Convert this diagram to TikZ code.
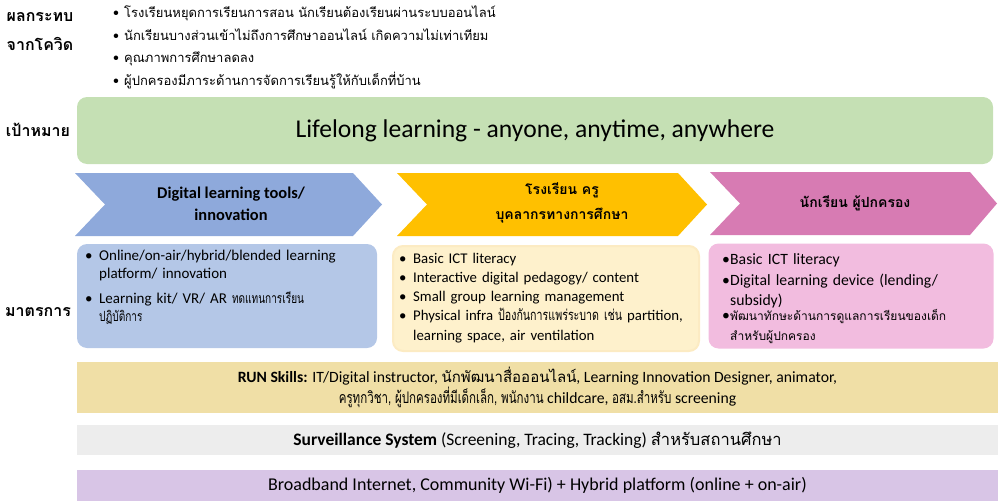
\documentclass[tikz,border=0pt]{standalone}
\usepackage{fontspec}
\setmainfont{Carlito}
\newfontfamily\thaifont[Script=Thai]{Loma}
\newfontfamily\thaicond[Script=Thai,FakeStretch=0.72]{Loma}
\newcommand\tha[1]{{\thaifont #1}}
\newcommand\thc[1]{{\thaicond #1}}
\newcommand\bul[2][12pt]{\par\noindent\makebox[#1][l]{•}\parbox[t]{\dimexpr\hsize-#1\relax}{\raggedright #2}}
\hyphenpenalty=10000
\exhyphenpenalty=10000
\definecolor{cgreen}{HTML}{C5E0B4}
\definecolor{cbluechev}{HTML}{8EA9DB}
\definecolor{cbluebox}{HTML}{B4C7E7}
\definecolor{cyelchev}{HTML}{FFC000}
\definecolor{cyelbox}{HTML}{FEF1CC}
\definecolor{cyeledge}{HTML}{FCEBC3}
\definecolor{cpinkchev}{HTML}{D77BB3}
\definecolor{cpinkbox}{HTML}{F2BCDF}
\definecolor{ctan}{HTML}{F0DFA6}
\definecolor{cgray}{HTML}{EDEDED}
\definecolor{clav}{HTML}{D8C5E6}
\tikzset{
  panel/.style={rectangle, rounded corners=10pt, inner sep=0pt},
  bar/.style={rectangle, inner sep=0pt},
  sidelabel/.style={font=\fontsize{16}{29}\selectfont\bfseries\thaifont, align=center},
  chevtext/.style={font=\fontsize{16.4}{22}\selectfont\bfseries, align=center},
  boxtext/.style={align=left, inner sep=0pt, anchor=north west},
}
\begin{document}
\begin{tikzpicture}[x=1pt,y=-1pt]
\useasboundingbox (0,0) rectangle (998,503);
% side labels
\node[sidelabel] (impact) at (40,32) {ผลกระทบ\\จากโควิด};
\node[sidelabel] (goallbl) at (38,130) {เป้าหมาย};
\node[sidelabel] (measlbl) at (38,312) {มาตรการ};
% top bullets
\node[boxtext, font=\fontsize{13}{22.7}\selectfont\thaifont, text width=520pt] (bullets) at (113,-5.5) {%
\bul[11pt]{โรงเรียนหยุดการเรียนการสอน นักเรียนต้องเรียนผ่านระบบออนไลน์}
\bul[11pt]{นักเรียนบางส่วนเข้าไม่ถึงการศึกษาออนไลน์ เกิดความไม่เท่าเทียม}
\bul[11pt]{คุณภาพการศึกษาลดลง}
\bul[11pt]{ผู้ปกครองมีภาระด้านการจัดการเรียนรู้ให้กับเด็กที่บ้าน}};
% goal
\node[panel, fill=cgreen, minimum width=916pt, minimum height=67pt, font=\fontsize{25.6}{30}\selectfont] (goal) at (535,130.5) {Lifelong learning - anyone, anytime, anywhere};
% chevrons
\fill[cbluechev] (75,173) -- (353,173) -- (382,204.5) -- (353,236) -- (75,236) -- (105,204.5) -- cycle;
\fill[cyelchev] (397,173) -- (678,173) -- (707,204.5) -- (678,236) -- (397,236) -- (427,204.5) -- cycle;
\fill[cpinkchev] (710,172) -- (970,172) -- (997,203.5) -- (970,235) -- (710,235) -- (740,203.5) -- cycle;
\node[chevtext] (chev1) at (231,204) {Digital learning tools/\\innovation};
\node[chevtext, font=\fontsize{14}{25}\selectfont\bfseries\thaifont] (chev2) at (562,203) {โรงเรียน ครู\\บุคลากรทางการศึกษา};
\node[chevtext, font=\fontsize{14}{21}\selectfont\bfseries\thaifont] (chev3) at (855,203) {นักเรียน ผู้ปกครอง};
% measure boxes
\node[panel, fill=cbluebox, minimum width=300pt, minimum height=104pt] (box1) at (227,296) {};
\node[panel, fill=cyelbox, draw=cyeledge, line width=2pt, minimum width=306pt, minimum height=105pt] (box2) at (546,298.5) {};
\node[panel, fill=cpinkbox, minimum width=285pt, minimum height=105pt] (box3) at (851,296) {};
\node[boxtext, text width=272pt, font=\fontsize{15}{17.5}\selectfont] (t1) at (85,243) {%
\bul[14pt]{Online/on-air/hybrid/blended learning platform/ innovation}
\vspace{4.5pt}
\bul[14pt]{Learning kit/ VR/ AR {\fontsize{14}{17.5}\selectfont\thc{ทดแทนการเรียน}}\\{\fontsize{14}{17.5}\selectfont\thc{ปฏิบัติการ}}}};
\node[boxtext, text width=300pt, font=\fontsize{14.8}{19.3}\selectfont] (t2) at (399,243.5) {%
\bul[14pt]{Basic ICT literacy}
\bul[14pt]{Interactive digital pedagogy/ content}
\bul[14pt]{Small group learning management}
\bul[14pt]{Physical infra \thc{ป้องกันการแพร่ระบาด เช่น} partition,\\learning space, air ventilation}};
\node[boxtext, text width=268pt, font=\fontsize{15.7}{20.5}\selectfont] (t3) at (722,244) {%
\bul[8pt]{Basic ICT literacy}
\bul[8pt]{Digital learning device (lending/\\subsidy)}
\bul[8pt]{{\fontsize{12}{20.5}\selectfont\tha{พัฒนาทักษะด้านการดูแลการเรียนของเด็ก}\\\tha{สำหรับผู้ปกครอง}}}};
% bottom bars
\node[bar, fill=ctan, minimum width=921pt, minimum height=51pt, align=center, font=\fontsize{15.7}{21}\selectfont] (run) at (537.5,387.5) {\textbf{RUN Skills:} IT/Digital instructor, {\fontsize{15}{21}\selectfont\tha{นักพัฒนาสื่อออนไลน์}}, Learning Innovation Designer, animator,\\{\fontsize{16}{21}\selectfont\thc{ครูทุกวิชา, ผู้ปกครองที่มีเด็กเล็ก, พนักงาน}} childcare, {\fontsize{16}{21}\selectfont\thc{อสม.สำหรับ}} screening};
\node[bar, fill=cgray, minimum width=921pt, minimum height=30pt, font=\fontsize{17.5}{20}\selectfont] (surv) at (537.5,440) {\textbf{Surveillance System} (Screening, Tracing, Tracking) {\fontsize{16.5}{20}\selectfont\tha{สำหรับสถานศึกษา}}};
\node[bar, fill=clav, minimum width=921pt, minimum height=31pt, font=\fontsize{18}{20}\selectfont] (bb) at (537.5,485.5) {Broadband Internet, Community Wi-Fi) + Hybrid platform (online + on-air)};
\end{tikzpicture}
\end{document}
